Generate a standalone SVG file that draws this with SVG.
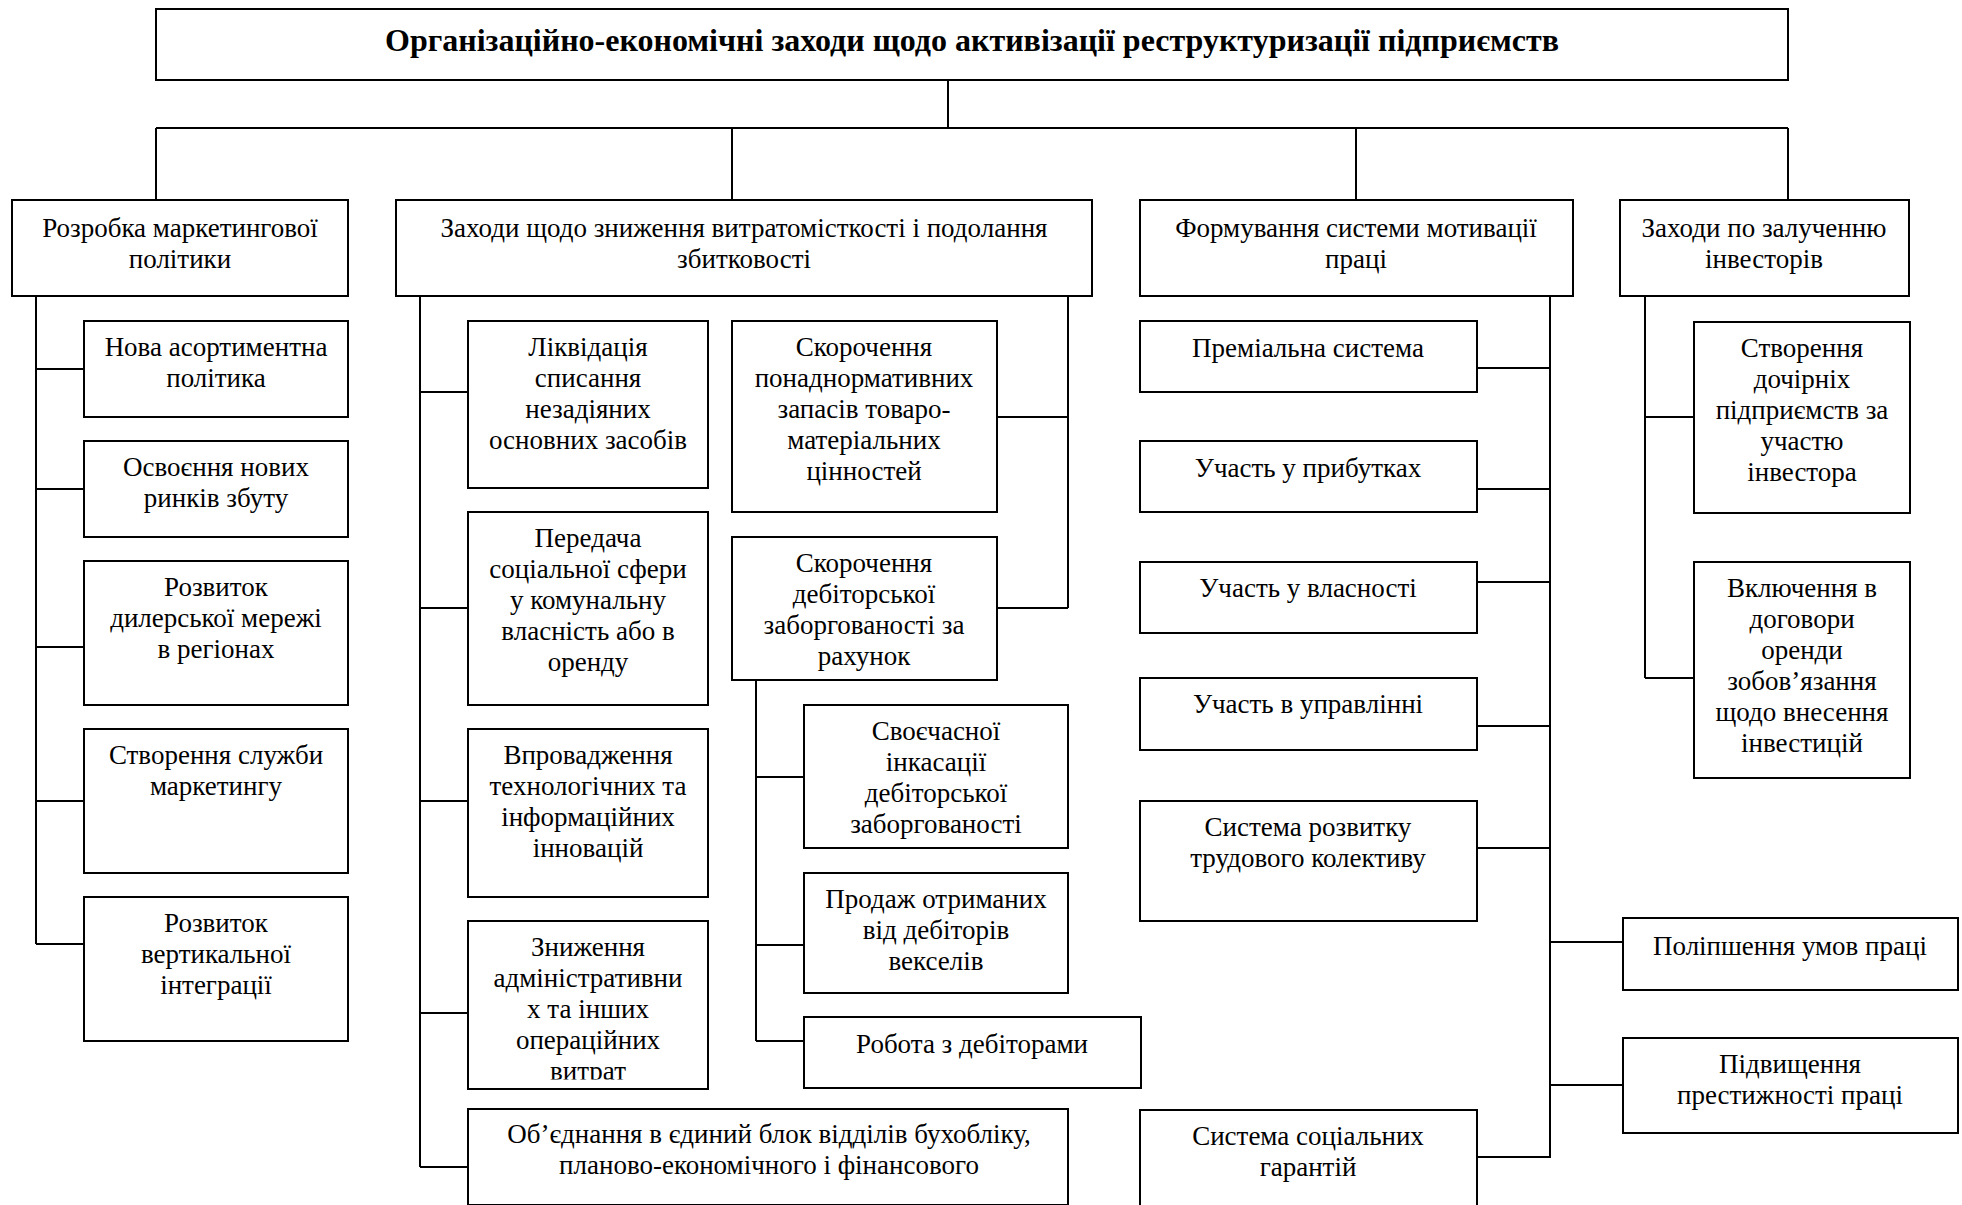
<svg xmlns="http://www.w3.org/2000/svg" width="1962" height="1205" viewBox="0 0 1962 1205">
<style>
.b{fill:#fff;stroke:#000;stroke-width:2}
.c{fill:none;stroke:#000;stroke-width:2}
.t{font-family:"Liberation Serif","Times New Roman",serif;font-size:27px;text-anchor:middle;fill:#000}
.h{font-family:"Liberation Serif","Times New Roman",serif;font-size:32px;font-weight:bold;text-anchor:middle;fill:#000}
</style>
<defs>
<clipPath id="clipZn"><rect x="468" y="921" width="240" height="158.5"/></clipPath>
</defs>
<rect width="1962" height="1205" fill="#fff"/>
<g id="connectors">
<path class="c" d="M948,80V128M156,128H1788M156,128V200M732,128V200M1356,128V200M1788,128V200"/>
<path class="c" d="M36,296V944M36,369H84M36,489H84M36,647H84M36,801H84M36,944H84"/>
<path class="c" d="M420,296V1167M420,392H468M420,608H468M420,801H468M420,1013H468M420,1167H468"/>
<path class="c" d="M1068,296V608M997,417H1068M997,608H1068"/>
<path class="c" d="M756,680V1041M756,777H804M756,945H804M756,1041H804"/>
<path class="c" d="M1550,296V1158M1477,368H1550M1477,489H1550M1477,582H1550M1477,726H1550M1477,848H1550M1477,1157H1550M1550,942H1623M1550,1085H1623"/>
<path class="c" d="M1645,296V678M1645,417H1694M1645,678H1694"/>
</g>
<g id="title"><rect class="b" x="156" y="9" width="1632" height="71"/><text class="h" x="972" y="51">Організаційно-економічні заходи щодо активізації реструктуризації підприємств</text></g>
<g id="n1"><rect class="b" x="12" y="200" width="336" height="96"/><text class="t" x="180" y="237">Розробка маркетингової</text><text class="t" x="180" y="268">політики</text></g>
<g id="n2"><rect class="b" x="396" y="200" width="696" height="96"/><text class="t" x="744" y="237">Заходи щодо зниження витратомісткості і подолання</text><text class="t" x="744" y="268">збитковості</text></g>
<g id="n3"><rect class="b" x="1140" y="200" width="433" height="96"/><text class="t" x="1356" y="237">Формування системи мотивації</text><text class="t" x="1356" y="268">праці</text></g>
<g id="n4"><rect class="b" x="1620" y="200" width="289" height="96"/><text class="t" x="1764" y="237">Заходи по залученню</text><text class="t" x="1764" y="268">інвесторів</text></g>
<g id="n1a"><rect class="b" x="84" y="321" width="264" height="96"/><text class="t" x="216" y="356">Нова асортиментна</text><text class="t" x="216" y="387">політика</text></g>
<g id="n1b"><rect class="b" x="84" y="441" width="264" height="96"/><text class="t" x="216" y="476">Освоєння нових</text><text class="t" x="216" y="507">ринків збуту</text></g>
<g id="n1c"><rect class="b" x="84" y="561" width="264" height="144"/><text class="t" x="216" y="596">Розвиток</text><text class="t" x="216" y="627">дилерської мережі</text><text class="t" x="216" y="658">в регіонах</text></g>
<g id="n1d"><rect class="b" x="84" y="729" width="264" height="144"/><text class="t" x="216" y="764">Створення служби</text><text class="t" x="216" y="795">маркетингу</text></g>
<g id="n1e"><rect class="b" x="84" y="897" width="264" height="144"/><text class="t" x="216" y="932">Розвиток</text><text class="t" x="216" y="963">вертикальної</text><text class="t" x="216" y="994">інтеграції</text></g>
<g id="n2a"><rect class="b" x="468" y="321" width="240" height="167"/><text class="t" x="588" y="356">Ліквідація</text><text class="t" x="588" y="387">списання</text><text class="t" x="588" y="418">незадіяних</text><text class="t" x="588" y="449">основних засобів</text></g>
<g id="n2b"><rect class="b" x="468" y="512" width="240" height="193"/><text class="t" x="588" y="547">Передача</text><text class="t" x="588" y="578">соціальної сфери</text><text class="t" x="588" y="609">у комунальну</text><text class="t" x="588" y="640">власність або в</text><text class="t" x="588" y="671">оренду</text></g>
<g id="n2c"><rect class="b" x="468" y="729" width="240" height="168"/><text class="t" x="588" y="764">Впровадження</text><text class="t" x="588" y="795">технологічних та</text><text class="t" x="588" y="826">інформаційних</text><text class="t" x="588" y="857">інновацій</text></g>
<g id="n2d"><rect class="b" x="468" y="921" width="240" height="168"/><g clip-path="url(#clipZn)"><text class="t" x="588" y="956">Зниження</text><text class="t" x="588" y="987">адміністративни</text><text class="t" x="588" y="1018">х та інших</text><text class="t" x="588" y="1049">операційних</text><text class="t" x="588" y="1080">витрат</text></g></g>
<g id="n2e"><rect class="b" x="468" y="1109" width="600" height="96"/><text class="t" x="769" y="1143">Об’єднання в єдиний блок відділів бухобліку,</text><text class="t" x="769" y="1174">планово-економічного і фінансового</text></g>
<g id="n2f"><rect class="b" x="732" y="321" width="265" height="191"/><text class="t" x="864" y="356">Скорочення</text><text class="t" x="864" y="387">понаднормативних</text><text class="t" x="864" y="418">запасів товаро-</text><text class="t" x="864" y="449">матеріальних</text><text class="t" x="864" y="480">цінностей</text></g>
<g id="n2g"><rect class="b" x="732" y="537" width="265" height="143"/><text class="t" x="864" y="572">Скорочення</text><text class="t" x="864" y="603">дебіторської</text><text class="t" x="864" y="634">заборгованості за</text><text class="t" x="864" y="665">рахунок</text></g>
<g id="n2g1"><rect class="b" x="804" y="705" width="264" height="143"/><text class="t" x="936" y="740">Своєчасної</text><text class="t" x="936" y="771">інкасації</text><text class="t" x="936" y="802">дебіторської</text><text class="t" x="936" y="833">заборгованості</text></g>
<g id="n2g2"><rect class="b" x="804" y="873" width="264" height="120"/><text class="t" x="936" y="908">Продаж отриманих</text><text class="t" x="936" y="939">від дебіторів</text><text class="t" x="936" y="970">векселів</text></g>
<g id="n2g3"><rect class="b" x="804" y="1017" width="337" height="71"/><text class="t" x="972" y="1053">Робота з дебіторами</text></g>
<g id="n3a"><rect class="b" x="1140" y="321" width="337" height="71"/><text class="t" x="1308" y="357">Преміальна система</text></g>
<g id="n3b"><rect class="b" x="1140" y="441" width="337" height="71"/><text class="t" x="1308" y="477">Участь у прибутках</text></g>
<g id="n3c"><rect class="b" x="1140" y="562" width="337" height="71"/><text class="t" x="1308" y="597">Участь у власності</text></g>
<g id="n3d"><rect class="b" x="1140" y="678" width="337" height="72"/><text class="t" x="1308" y="713">Участь в управлінні</text></g>
<g id="n3e"><rect class="b" x="1140" y="801" width="337" height="120"/><text class="t" x="1308" y="836">Система розвитку</text><text class="t" x="1308" y="867">трудового колективу</text></g>
<g id="n3f"><rect class="b" x="1140" y="1110" width="337" height="96"/><text class="t" x="1308" y="1145">Система соціальних</text><text class="t" x="1308" y="1176">гарантій</text></g>
<g id="n3g"><rect class="b" x="1623" y="918" width="335" height="72"/><text class="t" x="1790" y="955">Поліпшення умов праці</text></g>
<g id="n3h"><rect class="b" x="1623" y="1038" width="335" height="95"/><text class="t" x="1790" y="1073">Підвищення</text><text class="t" x="1790" y="1104">престижності праці</text></g>
<g id="n4a"><rect class="b" x="1694" y="322" width="216" height="191"/><text class="t" x="1802" y="357">Створення</text><text class="t" x="1802" y="388">дочірніх</text><text class="t" x="1802" y="419">підприємств за</text><text class="t" x="1802" y="450">участю</text><text class="t" x="1802" y="481">інвестора</text></g>
<g id="n4b"><rect class="b" x="1694" y="562" width="216" height="216"/><text class="t" x="1802" y="597">Включення в</text><text class="t" x="1802" y="628">договори</text><text class="t" x="1802" y="659">оренди</text><text class="t" x="1802" y="690">зобов’язання</text><text class="t" x="1802" y="721">щодо внесення</text><text class="t" x="1802" y="752">інвестицій</text></g>
</svg>
